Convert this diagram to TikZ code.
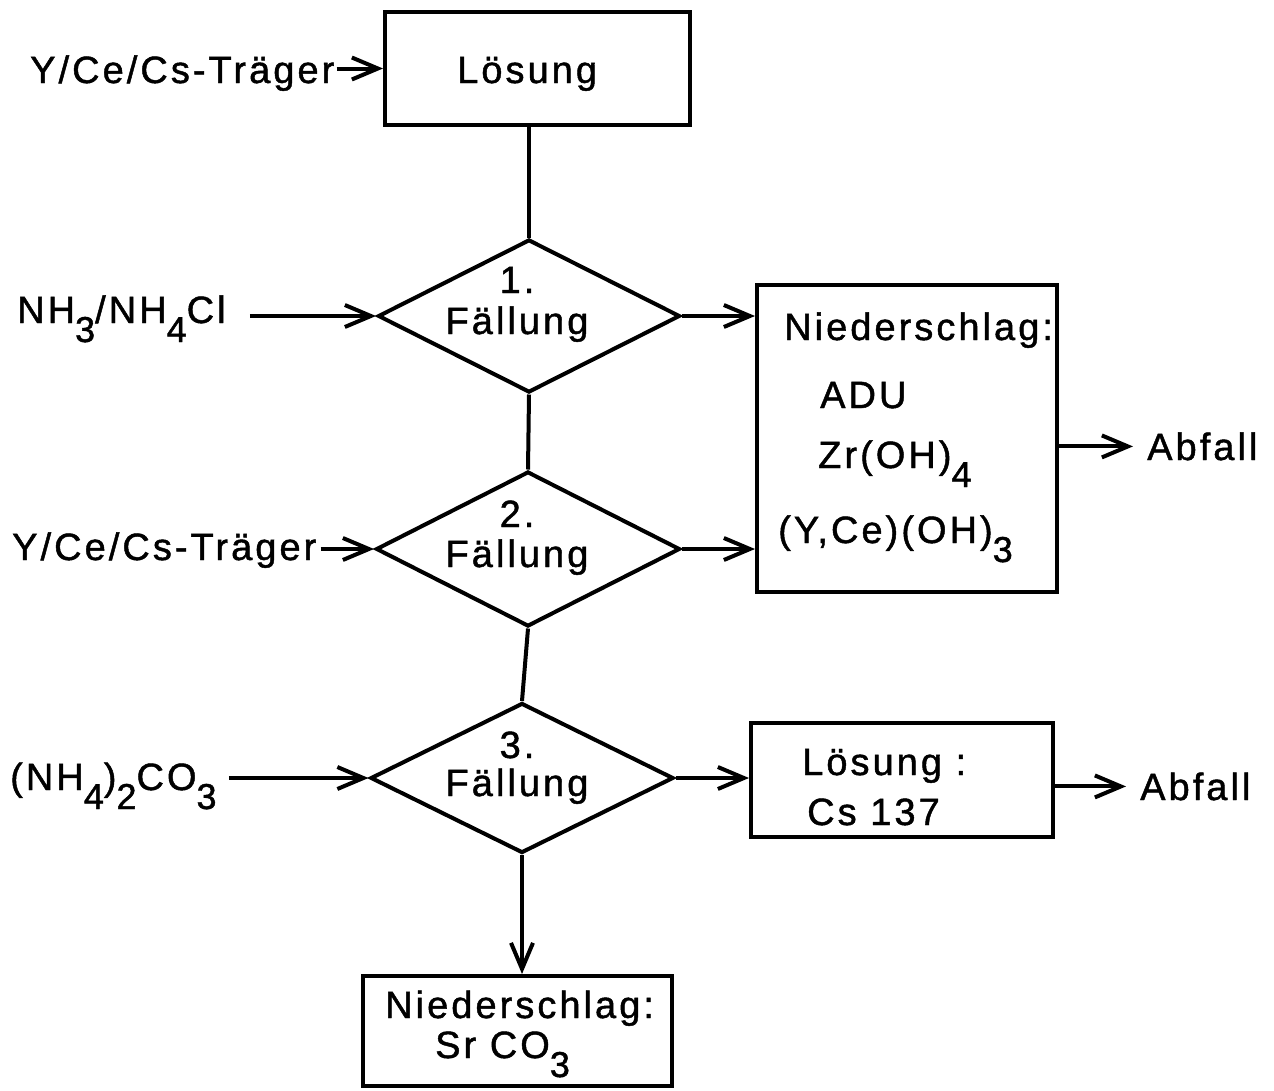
\documentclass[tikz,border=0pt]{standalone}
\usepackage{fontspec}
\setmainfont{Liberation Sans}[LetterSpace=8,FakeBold=1.2]
\usetikzlibrary{shapes.geometric,arrows.meta}
\newcommand\subsc[1]{\raisebox{-19pt}{\fontsize{36}{36}\selectfont #1}}
\begin{document}
\begin{tikzpicture}[x=1pt,y=-1pt,
  lw/.style={line width=4pt},
  box/.style={draw, lw, rectangle, inner sep=0pt},
  dia/.style={draw, lw, diamond, inner sep=0pt},
  txt/.style={inner sep=0pt, anchor=base west, font=\fontsize{38}{40}\selectfont},
  ctxt/.style={txt, anchor=base},
  arr/.style={lw, -{Straight Barb[length=26pt,width=22pt]}},
  con/.style={lw}]
\useasboundingbox[fill=white] (0,0) rectangle (1274,1090);

% boxes
\node[box, minimum width=305pt, minimum height=113pt] (box1) at (537.5,68.5) {};
\node[box, minimum width=300pt, minimum height=307pt] (big) at (907,438.5) {};
\node[box, minimum width=302pt, minimum height=114pt] (box2) at (902,780) {};
\node[box, minimum width=309pt, minimum height=110pt] (box3) at (517.5,1031) {};

% diamonds
\node[dia, minimum width=302pt, minimum height=153pt] (d1) at (529,316) {};
\node[dia, minimum width=304pt, minimum height=155pt] (d2) at (528,549) {};
\node[dia, minimum width=303pt, minimum height=150pt] (d3) at (522,778) {};

% texts in shapes
\node[txt] (tb1) at (457,83) {Lösung};
\node[ctxt] (t1a) at (517,293) {1.};
\node[ctxt] (t1b) at (517,334) {Fällung};
\node[ctxt] (t2a) at (517,527) {2.};
\node[ctxt] (t2b) at (517,567) {Fällung};
\node[ctxt] (t3a) at (517,758) {3.};
\node[ctxt] (t3b) at (517,796) {Fällung};

\node[txt] (n1) at (784,340) {Niederschlag:};
\node[txt] (n2) at (820,408) {ADU};
\node[txt] (n3) at (818,468) {Zr(OH)\subsc{4}};
\node[txt] (n4) at (778,543) {(Y,Ce)(OH)\subsc{3}};

\node[txt] (l1) at (802,775) {Lösung :};
\node[txt] (l2) at (807,825) {Cs 137};

\node[txt] (s1) at (385,1018) {Niederschlag:};
\node[txt] (s2) at (435,1058) {Sr CO\subsc{3}};

% left labels
\node[txt] (lab1) at (30,83) {Y/Ce/Cs-Träger};
\node[txt] (lab2) at (17,323) {NH\subsc{3}/NH\subsc{4}Cl};
\node[txt] (lab3) at (12,560) {Y/Ce/Cs-Träger};
\node[txt] (lab4) at (10,790) {(NH\subsc{4})\subsc{2}CO\subsc{3}};

% right labels
\node[txt] (abf1) at (1147,460) {Abfall};
\node[txt] (abf2) at (1140,800) {Abfall};

% connectors
\draw[con] (d1.north |- box1.south) -- (d1.north);
\draw[con] (d1.south) -- (d2.north);
\draw[con] (d2.south) -- (d3.north);
\draw[arr] (d3.south) -- (d3.south |- box3.north);

\draw[arr, shorten <=2pt] (lab1.east |- box1.west) -- (box1.west);
\draw[arr, shorten <=24pt] (lab2.east |- d1.west) -- (d1.west);
\draw[arr, shorten <=4pt] (lab3.east |- d2.west) -- (d2.west);
\draw[arr, shorten <=12pt] (lab4.east |- d3.west) -- (d3.west);

\draw[arr] (d1.east) -- (d1.east -| big.west);
\draw[arr] (d2.east) -- (d2.east -| big.west);
\draw[arr] (d3.east) -- (d3.east -| box2.west);

\draw[arr, shorten >=14pt] (big.east |- abf1.west) -- (abf1.west);
\draw[arr, shorten >=14pt] (box2.east |- abf2.west) -- (abf2.west);
\end{tikzpicture}
\end{document}
